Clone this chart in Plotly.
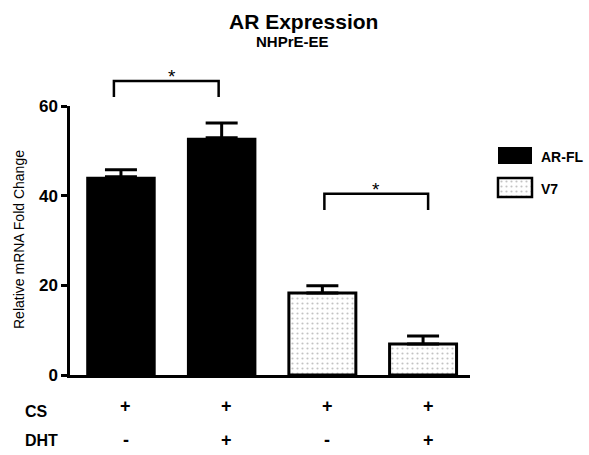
import plotly.graph_objects as go

# ---- data ----
groups = ["AR-FL", "AR-FL", "V7", "V7"]
means = [44.2, 52.9, 18.3, 6.9]
errors = [1.6, 3.3, 1.6, 1.8]
cs = ["+", "+", "+", "+"]
dht = ["-", "+", "-", "+"]
row_labels = ["CS", "DHT"]
legend_names = ["AR-FL", "V7"]
sig_pairs = [(0, 1), (2, 3)]
sig_offsets = [(-0.07, -0.03), (0.02, 0.05)]
sig_heights = [65.6, 40.4]
sig_text = ["*", "*"]

# ---- geometry helpers ----
W, H = 589, 455
L, R, T, B = 70, 50, 106, 80
PW = W - L - R
PH = H - T - B
XMIN, XMAX = -0.506, 3.466
YMAX = 60
XDOM_END = 400 / PW

def px_x(px):
    return (px - L) / PW

def px_y(py):
    return (H - B - py) / PH

def data_x(x):
    return (x - XMIN) / (XMAX - XMIN) * XDOM_END

def data_y(y):
    return y / YMAX

FONT = "Liberation Sans, Arial, sans-serif"

fig = go.Figure()
xs = list(range(len(means)))

ar_idx = [i for i, g in enumerate(groups) if g == "AR-FL"]
v7_idx = [i for i, g in enumerate(groups) if g == "V7"]

err_style = dict(type="data", symmetric=False, thickness=3, width=16, color="black")

fig.add_trace(go.Bar(
    x=[xs[i] for i in ar_idx], y=[means[i] for i in ar_idx], width=0.69,
    marker=dict(color="black", line=dict(width=0)),
    error_y=dict(array=[errors[i] for i in ar_idx], arrayminus=[0] * len(ar_idx), **err_style),
    showlegend=False, name="AR-FL"))

fig.add_trace(go.Bar(
    x=[xs[i] for i in v7_idx], y=[means[i] for i in v7_idx], width=0.665,
    marker=dict(color="white", line=dict(color="black", width=3),
                pattern=dict(shape=".", fgcolor="#888", bgcolor="white", size=5, solidity=0.15)),
    error_y=dict(array=[errors[i] for i in v7_idx], arrayminus=[0] * len(v7_idx), **err_style),
    showlegend=False, name="V7"))

# ---- custom legend boxes using small axes ----
leg_boxes = [(498, 532, 147, 164), (498, 532, 178, 197)]
for k, (x0, x1, y0, y1) in enumerate(leg_boxes):
    pad = 4
    xa = "x%d" % (k + 2)
    ya = "y%d" % (k + 2)
    bw = x1 - x0
    bh = y1 - y0
    if legend_names[k] == "AR-FL":
        mk = dict(color="black", line=dict(width=0))
    else:
        mk = dict(color="white", line=dict(color="black", width=2.5),
                  pattern=dict(shape=".", fgcolor="#888", bgcolor="white", size=5, solidity=0.15))
    fig.add_trace(go.Bar(x=[0], y=[1], width=1, base=0, marker=mk, xaxis=xa, yaxis=ya,
                         showlegend=False, hoverinfo="skip"))
    fig.update_layout(**{
        "xaxis%d" % (k + 2): dict(domain=[px_x(x0 - pad), px_x(x1 + pad)],
                                   range=[-0.5 - pad / bw, 0.5 + pad / bw], visible=False,
                                   anchor=ya, fixedrange=True),
        "yaxis%d" % (k + 2): dict(domain=[px_y(y1 + pad), px_y(y0 - pad)],
                                   range=[-pad / bh, 1 + pad / bh], visible=False,
                                   anchor=xa, fixedrange=True),
    })
    fig.add_annotation(x=px_x(539), y=px_y((y0 + y1) / 2 + 1), xref="paper", yref="paper",
                       text="<b>%s</b>" % legend_names[k], showarrow=False,
                       xanchor="left", yanchor="middle",
                       font=dict(family=FONT, size=14, color="black"))

# ---- significance brackets ----
shapes = []
for (a, b), (oa, ob), h, t in zip(sig_pairs, sig_offsets, sig_heights, sig_text):
    xa_ = data_x(a + oa)
    xb_ = data_x(b + ob)
    ytop = data_y(h)
    ybot = data_y(h - 3.6)
    shapes.append(dict(type="path", xref="paper", yref="paper",
                       path="M %f,%f L %f,%f L %f,%f L %f,%f" % (xa_, ybot, xa_, ytop, xb_, ytop, xb_, ybot),
                       line=dict(color="black", width=2.5)))
    fig.add_annotation(x=(xa_ + xb_) / 2, y=ytop, xref="paper", yref="paper",
                       text=t, showarrow=False, yanchor="bottom", yshift=-8,
                       font=dict(family=FONT, size=19, color="black"))

# ---- treatment rows ----
for r, (lab, vals) in enumerate(zip(row_labels, [cs, dht])):
    yc = [406, 440][r]
    fig.add_annotation(x=px_x(23), y=px_y([412, 440][r]), xref="paper", yref="paper",
                       text="<b>%s</b>" % lab, showarrow=False, xanchor="left", yanchor="middle",
                       font=dict(family=FONT, size=16, color="black"))
    for i, v in enumerate(vals):
        fig.add_annotation(x=data_x(xs[i]), y=px_y(yc), xref="paper", yref="paper",
                           text="<b>%s</b>" % v, showarrow=False, xanchor="center", yanchor="middle",
                           xshift=5, font=dict(family=FONT, size=18, color="black"))

# ---- titles ----
fig.add_annotation(x=px_x(303), y=px_y(21), xref="paper", yref="paper",
                   text="<b>AR Expression</b>", showarrow=False, xanchor="center", yanchor="middle",
                   font=dict(family=FONT, size=21, color="black"))
fig.add_annotation(x=px_x(292), y=px_y(41), xref="paper", yref="paper",
                   text="<b>NHPrE-EE</b>", showarrow=False, xanchor="center", yanchor="middle",
                   font=dict(family=FONT, size=15, color="black"))
fig.add_annotation(x=px_x(19), y=px_y(240), xref="paper", yref="paper",
                   text="Relative mRNA Fold Change", showarrow=False, textangle=-90,
                   xanchor="center", yanchor="middle",
                   font=dict(family=FONT, size=14, color="black"))

fig.update_layout(
    width=W, height=H,
    margin=dict(l=L, r=R, t=T, b=B, pad=0),
    paper_bgcolor="white", plot_bgcolor="white",
    barmode="overlay",
    shapes=shapes,
    xaxis=dict(domain=[0, XDOM_END], range=[XMIN, XMAX], showgrid=False, zeroline=False,
               showline=True, linecolor="black", linewidth=2.5, ticks="", showticklabels=False,
               fixedrange=True),
    yaxis=dict(range=[0, YMAX], tickvals=[0, 20, 40, 60], showgrid=False, zeroline=False,
               showline=True, linecolor="black", linewidth=2.5, ticks="outside",
               ticklen=6, tickwidth=2.5, tickcolor="black",
               tickfont=dict(family=FONT, size=17, color="black", weight="bold"),
               fixedrange=True),
    font=dict(family=FONT, color="black"),
)

fig.write_html("out.html")
